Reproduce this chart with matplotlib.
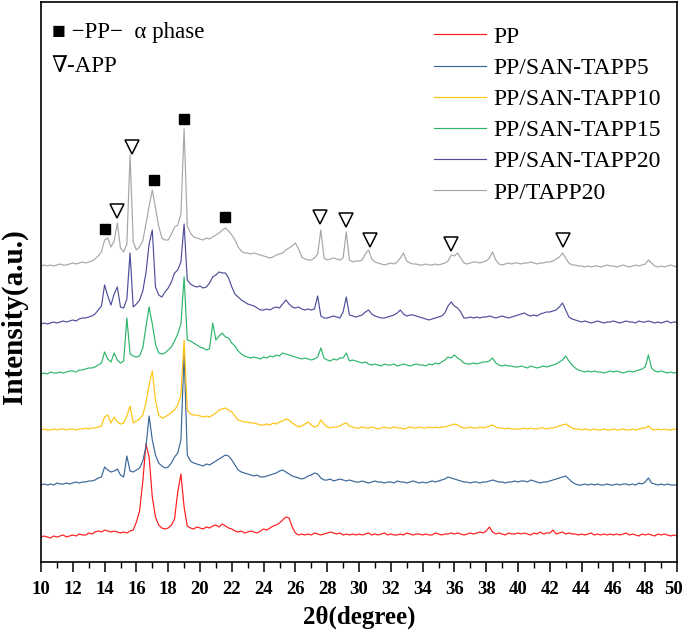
import numpy as np
import matplotlib
matplotlib.use("Agg")
import matplotlib.pyplot as plt
import matplotlib.transforms as mtransforms

# -------------------------------
# Data
# -------------------------------

two_theta = np.linspace(10, 50, 201)   # scan grid, 0.2 deg step

labels = ["PP", "PP/SAN-TAPP5", "PP/SAN-TAPP10",
          "PP/SAN-TAPP15", "PP/SAN-TAPP20", "PP/TAPP20"]
colors = ["#FF1A1A", "#3A6699", "#FFC20E", "#2DB56B", "#4E4E9A", "#A6A6A6"]
offsets = [25, 77, 132, 188, 238, 296]

pp = [
    0, 1, 0, -1, 1, 0, 1, 2, 0, 1,
    2, 1, 3, 2, 2, 4, 3, 5, 6, 5,
    7, 6, 5, 6, 5, 4, 5, 4, 6, 7,
    15, 26, 55, 93, 80, 40, 20, 12, 9, 8,
    9, 12, 18, 45, 63, 30, 11, 9, 8, 10,
    9, 8, 10, 9, 11, 12, 10, 13, 11, 9,
    8, 6, 5, 6, 4, 5, 6, 5, 4, 6,
    8, 7, 9, 11, 12, 14, 17, 20, 19, 10,
    4, 2, 3, 2, 3, 2, 4, 3, 2, 3,
    4, 5, 4, 3, 4, 2, 3, 2, 3, 2,
    3, 2, 3, 4, 2, 3, 2, 3, 4, 2,
    3, 2, 2, 3, 2, 4, 3, 2, 3, 3,
    2, 3, 2, 2, 4, 3, 2, 3, 3, 4,
    3, 4, 3, 2, 3, 4, 3, 4, 5, 4,
    6, 10, 5, 3, 4, 3, 2, 4, 3, 3,
    4, 3, 4, 3, 2, 4, 3, 5, 3, 4,
    4, 7, 3, 4, 5, 3, 4, 3, 3, 2,
    3, 2, 3, 4, 2, 3, 2, 3, 2, 3,
    2, 3, 2, 3, 4, 2, 3, 2, 1, 3,
    2, 3, 2, 1, 3, 2, 3, 2, 1, 2,
    1,
]

san_tapp5 = [
    0, 1, 0, 1, 0, 2, 1, 1, 2, 1,
    2, 3, 2, 3, 3, 4, 4, 5, 7, 8,
    18, 15, 13, 14, 16, 10, 8, 29, 14, 13,
    15, 17, 24, 38, 69, 45, 30, 22, 19, 17,
    18, 22, 28, 32, 45, 132, 30, 24, 22, 21,
    20, 19, 21, 20, 22, 24, 26, 28, 30, 29,
    25, 20, 15, 13, 12, 11, 10, 9, 10, 8,
    8, 9, 10, 11, 12, 14, 15, 13, 11, 9,
    8, 7, 6, 7, 9, 10, 12, 11, 7, 5,
    5, 6, 4, 5, 6, 5, 4, 5, 4, 3,
    3, 4, 3, 2, 3, 4, 3, 3, 2, 3,
    3, 2, 4, 3, 3, 2, 3, 4, 3, 2,
    3, 2, 3, 4, 3, 4, 5, 6, 8, 7,
    6, 5, 4, 3, 3, 2, 3, 3, 2, 3,
    3, 4, 5, 4, 3, 3, 2, 3, 3, 4,
    3, 4, 4, 3, 5, 4, 3, 2, 3, 3,
    4, 5, 6, 7, 8, 9, 6, 3, 1, 0,
    0, 1, 0, 1, 0, 1, 0, 0, 1, 0,
    0, 1, 0, 1, 1, 0, 1, 0, 2, 1,
    3, 7, 2, 1, 0, 1, 0, 1, 0, 0,
    0,
]

san_tapp10 = [
    0, 1, 0, 0, 1, 0, 1, 1, 0, 1,
    1, 0, 1, 1, 2, 1, 2, 2, 3, 4,
    13, 15, 7, 13, 8, 6, 7, 14, 24, 7,
    9, 11, 15, 27, 45, 59, 30, 15, 12, 13,
    15, 18, 20, 25, 35, 90, 20, 16, 15, 15,
    14, 13, 14, 13, 15, 17, 20, 21, 22, 20,
    18, 14, 10, 9, 8, 8, 7, 7, 6, 5,
    5, 6, 5, 7, 6, 8, 9, 11, 10, 7,
    5, 3, 4, 6, 8, 5, 3, 4, 10, 6,
    3, 2, 3, 3, 4, 6, 7, 4, 3, 2,
    2, 3, 2, 2, 3, 2, 1, 2, 3, 2,
    2, 3, 2, 2, 1, 2, 3, 2, 2, 3,
    2, 2, 3, 2, 3, 2, 3, 3, 4, 5,
    6, 5, 3, 2, 2, 3, 2, 2, 3, 2,
    3, 4, 5, 3, 2, 2, 1, 2, 1, 1,
    1, 1, 2, 1, 2, 1, 1, 2, 2, 1,
    2, 2, 3, 4, 5, 6, 4, 2, 1, 1,
    0, 1, 0, 0, 1, 0, 0, 1, 0, 0,
    1, 0, 0, 1, 0, 0, 1, 0, 1, 2,
    2, 4, 1, 0, 1, 0, 1, 0, 0, 1,
    0,
]

san_tapp15 = [
    0, 1, 0, 2, 1, 1, 2, 1, 2, 3,
    3, 2, 4, 4, 5, 6, 6, 7, 9, 11,
    22, 15, 12, 21, 14, 11, 13, 56, 20, 18,
    17, 18, 26, 47, 67, 50, 30, 21, 20, 21,
    24, 27, 33, 40, 50, 97, 34, 33, 31, 29,
    27, 26, 24, 25, 51, 34, 38, 41, 37, 36,
    31, 28, 23, 20, 18, 17, 16, 17, 16, 15,
    17, 16, 18, 17, 19, 18, 21, 20, 19, 18,
    17, 16, 15, 16, 15, 14, 15, 17, 26, 16,
    14, 13, 15, 14, 16, 16, 21, 13, 14, 13,
    12, 11, 12, 10, 9, 10, 9, 8, 10, 9,
    9, 10, 8, 9, 10, 9, 8, 9, 10, 9,
    9, 8, 10, 9, 11, 10, 12, 14, 17, 16,
    19, 16, 14, 11, 10, 10, 11, 10, 11, 12,
    12, 13, 16, 11, 9, 8, 9, 8, 8, 7,
    7, 8, 7, 6, 8, 7, 6, 7, 8, 7,
    8, 9, 10, 12, 14, 18, 13, 9, 6, 4,
    3, 2, 3, 2, 3, 2, 2, 1, 2, 3,
    2, 3, 2, 1, 2, 3, 2, 3, 4, 5,
    7, 19, 6, 3, 2, 3, 2, 1, 2, 1,
    2,
]

san_tapp20 = [
    0, 1, 0, 1, 2, 1, 2, 3, 2, 3,
    4, 3, 5, 6, 6, 7, 8, 10, 14, 18,
    39, 28, 19, 30, 37, 17, 16, 25, 71, 17,
    20, 24, 33, 51, 80, 94, 37, 29, 27, 32,
    36, 42, 51, 54, 62, 100, 44, 40, 38, 37,
    38, 36, 37, 41, 47, 49, 52, 51, 51, 46,
    37, 30, 27, 24, 22, 20, 19, 18, 16, 14,
    14, 15, 14, 16, 17, 16, 20, 24, 20, 17,
    16, 17, 15, 14, 15, 14, 15, 28, 8, 6,
    6, 7, 8, 7, 6, 12, 27, 9, 8, 7,
    8, 9, 12, 14, 10, 8, 7, 6, 6, 7,
    8, 9, 11, 14, 10, 8, 9, 9, 8, 7,
    6, 5, 4, 5, 6, 7, 8, 11, 18, 22,
    18, 16, 12, 6, 6, 7, 6, 7, 6, 7,
    7, 8, 7, 6, 7, 8, 7, 6, 7, 8,
    9, 10, 11, 9, 8, 9, 8, 10, 11, 12,
    12, 13, 14, 17, 21, 14, 7, 5, 4, 3,
    2, 3, 2, 1, 2, 3, 2, 1, 2, 2,
    3, 2, 1, 2, 3, 2, 2, 1, 3, 2,
    2, 3, 2, 1, 2, 1, 2, 3, 1, 2,
    2,
]

tapp20 = [
    0, 1, 0, 1, 0, 1, 2, 1, 1, 2,
    3, 2, 3, 4, 3, 4, 5, 7, 10, 14,
    26, 28, 19, 25, 43, 18, 14, 22, 111, 24,
    16, 19, 25, 42, 60, 76, 58, 40, 28, 26,
    26, 32, 39, 41, 52, 137, 40, 33, 29, 28,
    27, 26, 28, 27, 29, 31, 33, 36, 38, 35,
    31, 26, 19, 15, 13, 13, 12, 13, 12, 11,
    10, 9, 8, 9, 11, 12, 13, 16, 18, 20,
    23, 17, 9, 7, 6, 6, 8, 12, 36, 8,
    6, 7, 8, 7, 6, 8, 34, 6, 4, 5,
    5, 6, 12, 16, 7, 4, 3, 2, 1, 2,
    3, 2, 4, 8, 13, 5, 3, 2, 2, 1,
    1, 2, 1, 1, 2, 1, 2, 3, 5, 11,
    10, 13, 8, 3, 2, 3, 4, 4, 3, 4,
    5, 8, 14, 6, 2, 1, 2, 3, 2, 3,
    3, 2, 3, 3, 4, 3, 2, 3, 3, 4,
    4, 5, 7, 9, 13, 8, 3, 1, 1, 0,
    0, -1, 0, -1, 0, 0, -1, 0, 1, 0,
    0, -1, 0, 1, 0, -1, 0, 1, 0, 1,
    2, 6, 3, 0, -1, 0, -1, 0, 1, 0,
    -1,
]

series = [pp, san_tapp5, san_tapp10, san_tapp15, san_tapp20, tapp20]

# peak markers (PP alpha phase squares, APP triangles)
pp_alpha_x = [14.0, 17.1, 19.0, 21.6]
pp_alpha_y = [333, 382, 443, 345]
app_x = [14.8, 15.75, 27.55, 29.2, 30.7, 35.8, 42.85]
app_y = [351, 415, 345, 342, 322, 318, 322]

# -------------------------------
# Plot
# -------------------------------

serif = ["Liberation Serif", "DejaVu Serif"]
plt.rcParams["font.family"] = serif

fig = plt.figure(figsize=(6.85, 6.37), dpi=100)
ax = fig.add_axes([41 / 685, 75 / 637, 636 / 685, 560 / 637])

for vals, off, col, lab in zip(series, offsets, colors, labels):
    ax.plot(two_theta, np.array(vals) + off, color=col, lw=0.85, label=lab)

ax.plot(pp_alpha_x, pp_alpha_y, ls="none", marker="s", ms=7.5,
        color="black")
ax.plot(app_x, app_y, ls="none", marker="v", ms=10.5, mfc="white",
        mec="black", mew=1.1)

ax.set_xlim(10, 50)
ax.set_ylim(0, 560)
ax.set_xticks(np.arange(10, 51, 2))
ax.set_xticks(np.arange(10, 51, 1), minor=True)
ax.set_yticks([])
ax.tick_params(axis="x", which="major", direction="out", length=7,
               width=1.1, pad=7)
ax.tick_params(axis="x", which="minor", direction="out", length=4,
               width=1.0)
ticklabels = ax.get_xticklabels()
for lbl in ticklabels:
    lbl.set_fontsize(13.5)
    lbl.set_fontweight("bold")
# keep the last label inside the figure edge
shift = mtransforms.ScaledTranslation(-3 / 100, 0, fig.dpi_scale_trans)
ticklabels[-1].set_transform(ticklabels[-1].get_transform() + shift)
for sp in ax.spines.values():
    sp.set_linewidth(1.2)

ax.set_xlabel("2θ(degree)", fontsize=18, fontweight="bold", labelpad=5)
fig.text(14 / 685, (637 - 317) / 637, "Intensity(a.u.)", rotation=90,
         fontsize=21, fontweight="bold", ha="center", va="center")

# marker key, top left
ax.text(0.017, 0.946, "■ −PP−  α phase", transform=ax.transAxes,
        fontsize=16.5, va="center", ha="left", family=serif)
ax.text(0.017, 0.884, "∇-APP", transform=ax.transAxes,
        fontsize=16.5, va="center", ha="left", family=serif)

ax.legend(loc="upper left", bbox_to_anchor=(0.618, 0.957), frameon=False,
          fontsize=17, handlelength=2.2, handletextpad=0.3,
          labelspacing=0.41, borderpad=0, borderaxespad=0)

fig.savefig("out.png", dpi=100)
